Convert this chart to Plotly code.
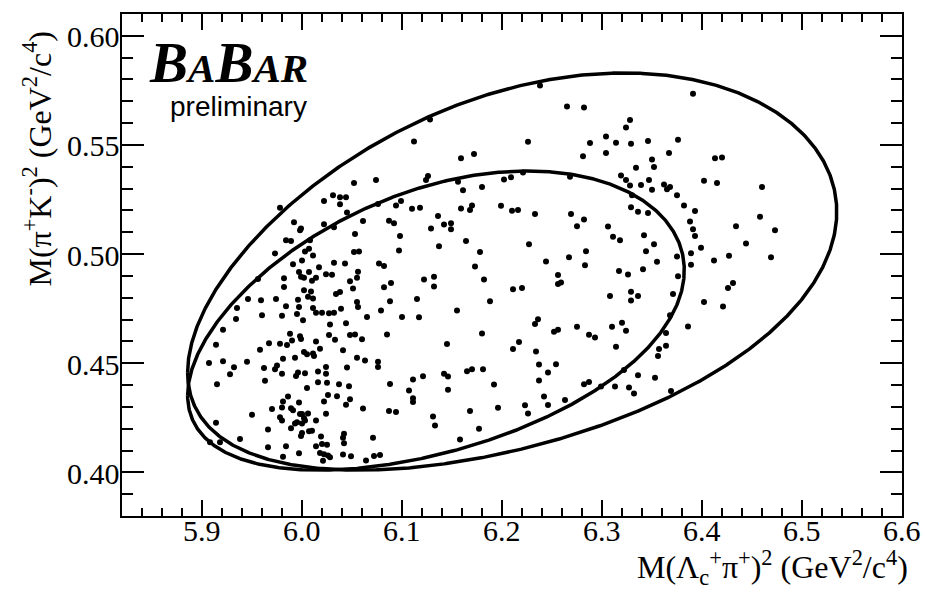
import numpy as np
import plotly.graph_objects as go

# Particle masses (GeV/c^2) and the two parent masses whose Dalitz boundaries are drawn
m_lc = 2.28646
m_pi = 0.13957
m_k = 0.49368
parent_masses = [3.050, 3.020]

# Candidate events: M(Lambda_c+ pi+)^2 and M(pi+ K-)^2 in GeV^2/c^4
m2_lcpi = [
    6.112, 6.052, 6.074, 5.978, 6.022, 6.031, 6.038, 6.044, 6.038, 6.045,
    6.076, 6.094, 6.099, 6.110, 6.118, 5.992, 5.998, 5.999, 6.022, 6.032,
    6.061, 6.087, 6.092, 6.098, 6.053, 5.984, 5.989, 6.008, 5.973, 6.003,
    6.007, 6.011, 6.052, 6.057, 6.097, 5.956, 5.982, 5.991, 6.000, 5.997,
    5.999, 6.002, 6.007, 6.010, 6.014, 6.017, 6.024, 6.030, 6.032, 6.043,
    6.048, 6.055, 6.056, 6.077, 6.082,
    6.128, 6.238, 6.391, 6.265, 6.282, 6.328, 6.324, 6.226, 6.288, 6.304,
    6.314, 6.329, 6.346, 6.376, 6.159, 6.172, 6.281, 6.304, 6.367, 6.350,
    6.352, 6.334, 6.413, 6.420, 6.126, 6.124, 6.156, 6.161, 6.180, 6.202,
    6.209, 6.221, 6.268, 6.319, 6.324, 6.328, 6.339, 6.347, 6.350, 6.362,
    6.365, 6.368, 6.375, 6.402, 6.415, 6.460, 6.136, 6.159, 6.168, 6.170,
    6.199, 6.210, 6.216, 6.233, 6.269, 6.330, 6.329, 6.336, 6.346, 6.382,
    6.393, 6.129, 6.142, 6.149, 6.149, 6.164, 6.137, 6.178, 6.173, 6.227,
    6.244, 6.267, 6.275, 6.282, 6.284, 6.283, 6.306, 6.311, 6.318, 6.342,
    6.352, 6.344, 6.355, 6.341, 6.317, 6.326, 6.375, 6.388, 6.391, 6.393,
    6.389, 6.399, 6.389, 6.412, 6.427, 6.434, 6.444, 6.458, 6.473, 6.469,
    6.376, 6.182, 6.122, 6.132, 6.256,
    5.982, 6.002, 6.009, 6.034, 6.038, 6.051, 6.082, 6.089, 5.946, 5.959,
    5.974, 5.996, 6.006, 6.011, 6.055, 6.088, 6.115, 5.935, 5.934, 5.960,
    5.980, 5.984, 5.995, 5.997, 6.001, 6.011, 6.014, 6.020, 6.027, 6.032,
    6.039, 6.056, 6.065, 6.079, 6.100, 6.117, 5.921, 5.914, 5.907, 5.921,
    5.932, 5.928, 5.945, 5.958, 5.962, 5.963, 5.967, 5.973, 5.975, 5.978,
    5.980, 5.981, 5.985, 5.988, 5.990, 5.993, 5.998, 5.999, 6.002, 6.003,
    5.994, 5.996, 6.005, 6.011, 6.012, 6.014, 6.018, 6.016, 6.024, 6.024,
    6.028, 6.027, 6.033, 6.044, 6.048, 6.053, 6.060, 6.041, 6.055, 6.063,
    6.076, 6.076, 6.045, 6.085, 5.915, 5.914, 5.908, 5.918, 5.938,
    5.950, 5.966, 5.966, 5.970, 5.978, 5.980, 5.980, 5.981, 5.986, 5.989,
    5.991, 5.989, 5.993, 5.995, 5.997, 5.998, 6.000, 6.002, 6.000, 5.999,
    6.000, 6.003, 6.005, 6.006, 6.007, 6.010, 6.016, 6.022, 6.024, 6.025,
    6.026, 6.035, 6.037, 6.047, 6.048, 6.044, 6.061, 6.087, 6.094, 6.088,
    6.107, 6.111, 6.111, 6.111, 6.014, 6.019, 6.014, 6.020, 6.025,
    6.018, 6.022, 6.026, 6.028, 6.021, 6.042, 6.041, 6.042, 6.041,
    6.049, 6.064, 6.071, 6.072, 6.078, 5.984, 5.981, 5.997,
    6.132, 6.211, 6.220, 6.259, 6.256, 6.155, 6.188, 6.180, 6.145, 6.121,
    6.142, 6.146, 6.146, 6.165, 6.170, 6.181, 6.192, 6.196, 6.168, 6.177,
    6.131, 6.133, 6.158, 6.211, 6.217, 6.233, 6.236, 6.234, 6.237, 6.237,
    6.246, 6.254, 6.242, 6.246, 6.223, 6.226, 6.263, 6.252, 6.256, 6.275,
    6.287, 6.293, 6.310, 6.320, 6.324, 6.314, 6.282, 6.287, 6.299, 6.313,
    6.327, 6.332, 6.322, 6.336, 6.353, 6.356, 6.357, 6.364, 6.364, 6.368,
    6.371, 6.308, 6.329, 6.329, 6.336, 6.426, 6.431, 6.402, 6.421, 6.386,
    6.369,
]
m2_pik = [
    0.5516, 0.5326, 0.5340, 0.5212, 0.5243, 0.5270, 0.5260, 0.5260, 0.5228, 0.5191,
    0.5229, 0.5223, 0.5243, 0.5208, 0.5212, 0.5146, 0.5109, 0.5117, 0.5137, 0.5123,
    0.5152, 0.5153, 0.5141, 0.5083, 0.5092, 0.5063, 0.5060, 0.5063, 0.5003, 0.5012,
    0.5024, 0.4994, 0.5009, 0.5012, 0.5016, 0.4886, 0.4889, 0.4954, 0.4971, 0.4918,
    0.4896, 0.4892, 0.4918, 0.4878, 0.4892, 0.4940, 0.4908, 0.4905, 0.4960, 0.4957,
    0.4875, 0.4892, 0.4919, 0.4957, 0.4945,
    0.5617, 0.5772, 0.5735, 0.5676, 0.5672, 0.5614, 0.5580, 0.5515, 0.5509, 0.5539,
    0.5510, 0.5506, 0.5518, 0.5524, 0.5439, 0.5459, 0.5448, 0.5463, 0.5463, 0.5433,
    0.5399, 0.5395, 0.5439, 0.5442, 0.5358, 0.5339, 0.5331, 0.5293, 0.5307, 0.5342,
    0.5352, 0.5374, 0.5354, 0.5360, 0.5339, 0.5314, 0.5316, 0.5340, 0.5295, 0.5319,
    0.5297, 0.5307, 0.5270, 0.5336, 0.5326, 0.5307, 0.5175, 0.5209, 0.5202, 0.5223,
    0.5222, 0.5199, 0.5202, 0.5184, 0.5184, 0.5270, 0.5215, 0.5194, 0.5188, 0.5223,
    0.5197, 0.5117, 0.5135, 0.5141, 0.5114, 0.5060, 0.5036, 0.5009, 0.4943, 0.5045,
    0.4966, 0.4985, 0.5127, 0.5159, 0.5013, 0.4949, 0.5126, 0.5079, 0.5063, 0.5086,
    0.5045, 0.5013, 0.4965, 0.4930, 0.4922, 0.4907, 0.4989, 0.5149, 0.5114, 0.5083,
    0.5004, 0.5029, 0.4951, 0.4971, 0.4992, 0.5127, 0.5048, 0.5171, 0.5109, 0.4985,
    0.4898, 0.4883, 0.4883, 0.4896, 0.4904,
    0.4849, 0.4834, 0.4829, 0.4817, 0.4826, 0.4842, 0.4848, 0.4867, 0.4794, 0.4788,
    0.4794, 0.4791, 0.4804, 0.4796, 0.4781, 0.4784, 0.4794, 0.4753, 0.4703, 0.4720,
    0.4718, 0.4761, 0.4726, 0.4758, 0.4697, 0.4753, 0.4731, 0.4731, 0.4729, 0.4731,
    0.4750, 0.4758, 0.4712, 0.4741, 0.4712, 0.4711, 0.4653, 0.4585, 0.4501, 0.4509,
    0.4481, 0.4449, 0.4507, 0.4562, 0.4478, 0.4420, 0.4591, 0.4472, 0.4490, 0.4589,
    0.4452, 0.4521, 0.4583, 0.4635, 0.4604, 0.4525, 0.4624, 0.4611, 0.4551, 0.4454,
    0.4442, 0.4457, 0.4541, 0.4544, 0.4533, 0.4600, 0.4566, 0.4462, 0.4483, 0.4452,
    0.4677, 0.4629, 0.4607, 0.4683, 0.4629, 0.4632, 0.4610, 0.4559, 0.4525, 0.4512,
    0.4507, 0.4483, 0.4480, 0.4632, 0.4404, 0.4227, 0.4138, 0.4138, 0.4153,
    0.4264, 0.4196, 0.4115, 0.4290, 0.4252, 0.4297, 0.4237, 0.4325, 0.4348, 0.4294,
    0.4285, 0.4202, 0.4224, 0.4229, 0.4320, 0.4267, 0.4267, 0.4249, 0.4224, 0.4167,
    0.4180, 0.4237, 0.4387, 0.4270, 0.4188, 0.4191, 0.4413, 0.4325, 0.4269, 0.4411,
    0.4354, 0.4349, 0.4404, 0.4395, 0.4335, 0.4310, 0.4293, 0.4281, 0.4276, 0.4405,
    0.4375, 0.4340, 0.4322, 0.4425, 0.4237, 0.4164, 0.4120, 0.4130, 0.4127,
    0.4089, 0.4083, 0.4077, 0.4069, 0.4053, 0.4177, 0.4158, 0.4133, 0.4082,
    0.4074, 0.4054, 0.4159, 0.4075, 0.4079, 0.4120, 0.4072, 0.4088,
    0.4851, 0.4839, 0.4845, 0.4870, 0.4863, 0.4741, 0.4784, 0.4636, 0.4588, 0.4440,
    0.4452, 0.4439, 0.4378, 0.4463, 0.4472, 0.4472, 0.4402, 0.4296, 0.4281, 0.4200,
    0.4256, 0.4215, 0.4150, 0.4565, 0.4597, 0.4680, 0.4702, 0.4554, 0.4494, 0.4421,
    0.4457, 0.4495, 0.4348, 0.4308, 0.4307, 0.4270, 0.4332, 0.4644, 0.4653, 0.4667,
    0.4630, 0.4618, 0.4667, 0.4685, 0.4649, 0.4576, 0.4404, 0.4414, 0.4393, 0.4393,
    0.4389, 0.4361, 0.4469, 0.4445, 0.4433, 0.4533, 0.4565, 0.4580, 0.4638, 0.4720,
    0.4817, 0.4808, 0.4828, 0.4787, 0.4808, 0.4845, 0.4868, 0.4781, 0.4760, 0.4668,
    0.4373,
]
assert len(m2_lcpi) == len(m2_pik)

x_tick_labels = ["5.9", "6.0", "6.1", "6.2", "6.3", "6.4", "6.5", "6.6"]
y_tick_labels = ["0.40", "0.45", "0.50", "0.55", "0.60"]


def dalitz_boundary(M, n=500):
    """Kinematic limits of M(Lc pi)^2 vs M(pi K)^2 for a parent of mass M."""
    s_lo = (m_lc + m_pi) ** 2
    s_hi = (M - m_k) ** 2
    t = np.linspace(0.0, np.pi, n)
    s = s_lo + (s_hi - s_lo) * (1.0 - np.cos(t)) / 2.0
    m12 = np.sqrt(s)
    e2 = (s - m_lc ** 2 + m_pi ** 2) / (2.0 * m12)
    e3 = (M ** 2 - s - m_k ** 2) / (2.0 * m12)
    p2 = np.sqrt(np.clip(e2 ** 2 - m_pi ** 2, 0.0, None))
    p3 = np.sqrt(np.clip(e3 ** 2 - m_k ** 2, 0.0, None))
    upper = (e2 + e3) ** 2 - (p2 - p3) ** 2
    lower = (e2 + e3) ** 2 - (p2 + p3) ** 2
    xs = np.concatenate([s, s[::-1], s[:1]])
    ys = np.concatenate([upper, lower[::-1], upper[:1]])
    return xs, ys


fig = go.Figure()

for M in parent_masses:
    bx, by = dalitz_boundary(M)
    fig.add_trace(go.Scatter(x=bx, y=by, mode="lines",
                             line=dict(color="black", width=3.5),
                             hoverinfo="skip", showlegend=False))

fig.add_trace(go.Scatter(x=m2_lcpi, y=m2_pik, mode="markers",
                         marker=dict(color="black", size=6),
                         showlegend=False))

serif = "Liberation Serif"
tick_font = dict(family=serif, size=30, color="black")

fig.update_xaxes(
    range=[5.82, 6.6],
    tickvals=[float(v) for v in x_tick_labels], showticklabels=False,
    ticks="inside", ticklen=16, tickwidth=1.5, tickcolor="black",
    minor=dict(ticks="inside", ticklen=8, dtick=0.02, tick0=5.9,
               tickwidth=1.5, tickcolor="black", showgrid=False),
    showline=True, linewidth=2, linecolor="black", mirror="allticks",
    showgrid=False, zeroline=False,
)
fig.update_yaxes(
    range=[0.38, 0.61],
    tickvals=[float(v) for v in y_tick_labels], showticklabels=False,
    ticks="inside", ticklen=22, tickwidth=1.5, tickcolor="black",
    minor=dict(ticks="inside", ticklen=11, dtick=0.01, tick0=0.40,
               tickwidth=1.5, tickcolor="black", showgrid=False),
    showline=True, linewidth=2, linecolor="black", mirror="allticks",
    showgrid=False, zeroline=False,
)

# Tick labels placed close to the frame, ROOT style
for lab in x_tick_labels:
    fig.add_annotation(x=float(lab), xref="x", y=-0.0285, yref="paper",
                       text=lab, showarrow=False, xanchor="center",
                       yanchor="middle", font=tick_font)
for lab in y_tick_labels:
    fig.add_annotation(x=0.0, xref="paper", y=float(lab), yref="y",
                       text=lab, showarrow=False, xanchor="right",
                       yanchor="middle", yshift=-1, font=tick_font)

title_font = dict(family=serif, size=32, color="black")
fig.add_annotation(
    xref="paper", yref="paper", x=1.010, y=-0.102,
    xanchor="right", yanchor="middle", showarrow=False,
    text="M(Λ<sub>c</sub><sup>+</sup>π<sup>+</sup>)<sup>2</sup> (GeV<sup>2</sup>/c<sup>4</sup>)",
    font=title_font,
)
fig.add_annotation(
    xref="paper", yref="paper", x=-0.109, y=0.712,
    xanchor="center", yanchor="middle", showarrow=False, textangle=-90,
    text="M(π<sup>+</sup>K<sup>-</sup>)<sup>2</sup> (GeV<sup>2</sup>/c<sup>4</sup>)",
    font=title_font,
)
fig.add_annotation(
    xref="paper", yref="paper", x=0.032, y=0.970,
    xanchor="left", yanchor="top", showarrow=False,
    text="<b><i>B<span style='font-size:41px'>A</span>B<span style='font-size:41px'>AR</span></i></b>",
    font=dict(family=serif, size=57, color="black"),
)
fig.add_annotation(
    xref="paper", yref="paper", x=0.240, y=0.850,
    xanchor="right", yanchor="top", showarrow=False,
    text="preliminary",
    font=dict(family="Liberation Sans", size=28, color="black"),
)

fig.update_layout(
    width=925, height=598,
    margin=dict(l=122, r=23, t=12, b=82),
    paper_bgcolor="white", plot_bgcolor="white",
    showlegend=False,
)

fig.write_html("out.html")
